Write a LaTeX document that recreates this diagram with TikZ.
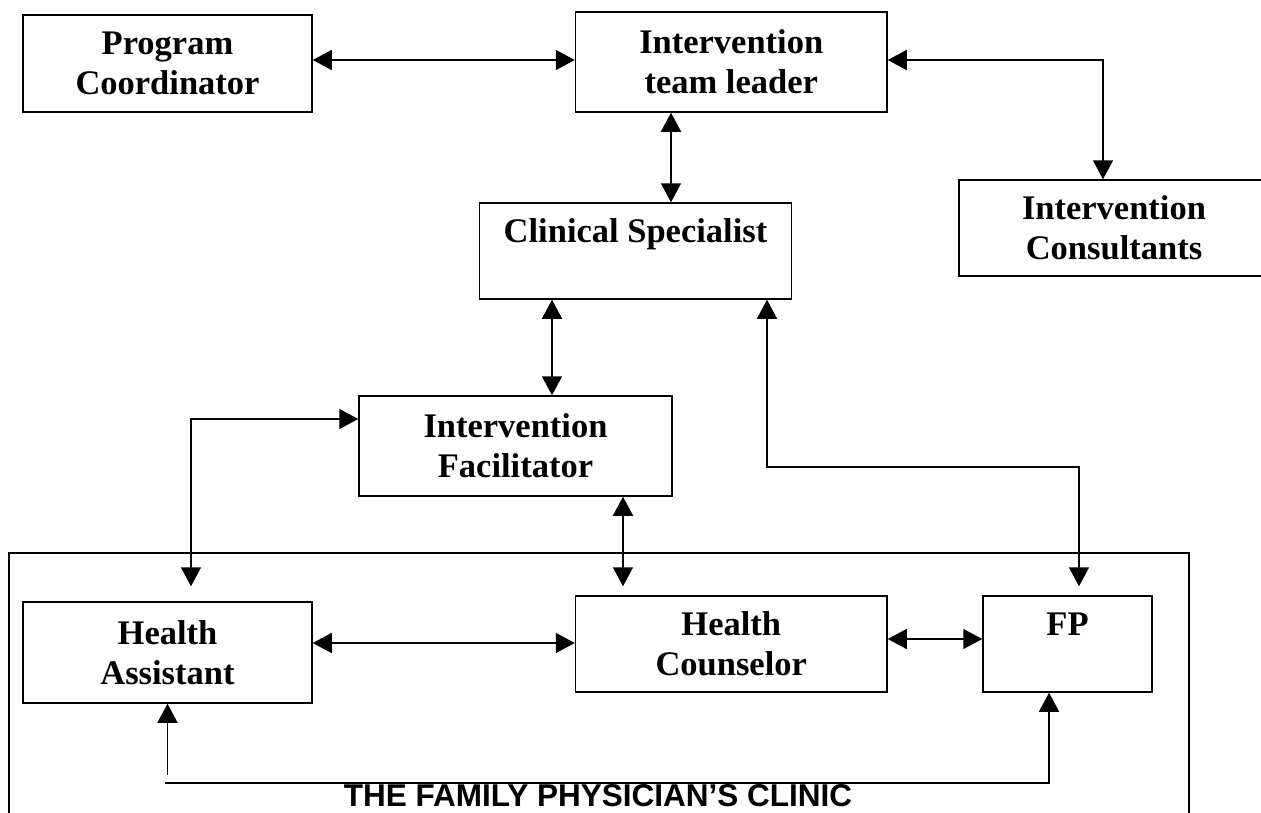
\documentclass[tikz,border=0pt]{standalone}
\usepackage{fontspec}
\setmainfont{Liberation Serif}
\newfontfamily\arialfont{Liberation Sans}
\usetikzlibrary{arrows.meta,calc}
\begin{document}
\begin{tikzpicture}[x=1pt,y=-1pt,
  box/.style={draw,line width=1.5pt,inner sep=0pt,align=center,font=\bfseries\fontsize{34.5}{40}\selectfont},
  link/.style={line width=1.5pt,{Triangle[length=19pt,width=20pt]}-{Triangle[length=19pt,width=20pt]}},
  onelink/.style={line width=1.5pt,-{Triangle[length=19pt,width=20pt]}}]
\useasboundingbox (0,0) rectangle (1261,812);
\fill[white] (0,0) rectangle (1261,812);
\clip (0,0) rectangle (1261,812);
% clinic container
\node[draw,line width=1.8pt,minimum width=1180pt,minimum height=300pt,inner sep=0pt] (clinic) at (599,703) {};
\node[font=\arialfont\bfseries\fontsize{31.5}{36}\selectfont,anchor=base,inner sep=0pt] (cliniclabel) at (598,806) {THE FAMILY PHYSICIAN’S CLINIC};
% boxes
\node[box,minimum width=289pt,minimum height=97pt] (pc) at (167.5,63.5) {Program\\Coordinator};
\node[box,minimum width=311.5pt,minimum height=100pt] (itl) at (731.25,62) {Intervention\\team leader};
\node[box,minimum width=310pt,minimum height=96pt] (cons) at (1114,228) {Intervention\\Consultants};
\node[box,minimum width=312pt,minimum height=96pt] (cs) at (635.5,251) {Clinical Specialist\\~};
\node[box,minimum width=313pt,minimum height=100pt] (if) at (515.5,446) {Intervention\\Facilitator};
\node[box,minimum width=289pt,minimum height=101pt] (ha) at (167.5,652.5) {Health\\Assistant};
\node[box,minimum width=311.5pt,minimum height=96pt] (hc) at (731.25,644) {Health\\Counselor};
\node[box,minimum width=169pt,minimum height=96pt] (fp) at (1067.5,644) {FP\\~};
% connectors
\draw[link] ([yshift=3.5pt]pc.east) -- ([yshift=3.5pt]pc.east -| itl.west);
\draw[link] ([yshift=2pt]itl.east) -| ([xshift=-11pt]cons.north);
\draw[link] ([xshift=-60.25pt]itl.south) -- ([xshift=-60.25pt]itl.south |- cs.north);
\draw[link] ([xshift=-83.5pt]cs.south) -- ([xshift=-83.5pt]cs.south |- if.north);
\coordinate (j1) at (767,467);
\draw[link,shorten >=9pt] (cs.south -| j1) -- (j1) -| ([xshift=11.5pt]fp.north);
\draw[link,shorten >=9pt] ([xshift=107.5pt]if.south) -- ([xshift=107.5pt]if.south |- hc.north);
\draw[link,shorten >=15pt] ([yshift=27pt]if.west) -| ([xshift=23.5pt]ha.north);
\draw[link] ([yshift=9.5pt]ha.east) -- ([yshift=9.5pt]ha.east -| hc.west);
\draw[link] ([yshift=5pt]hc.east) -- ([yshift=5pt]hc.east -| fp.west);
\coordinate (b1) at (167.5,775);
\draw[onelink] (b1) -- (ha.south);
\coordinate (b2) at (165,783);
\coordinate (b3) at (1049,783);
\draw[onelink] (b2) -- (b3) -- (b3 |- fp.south);
\end{tikzpicture}
\end{document}
